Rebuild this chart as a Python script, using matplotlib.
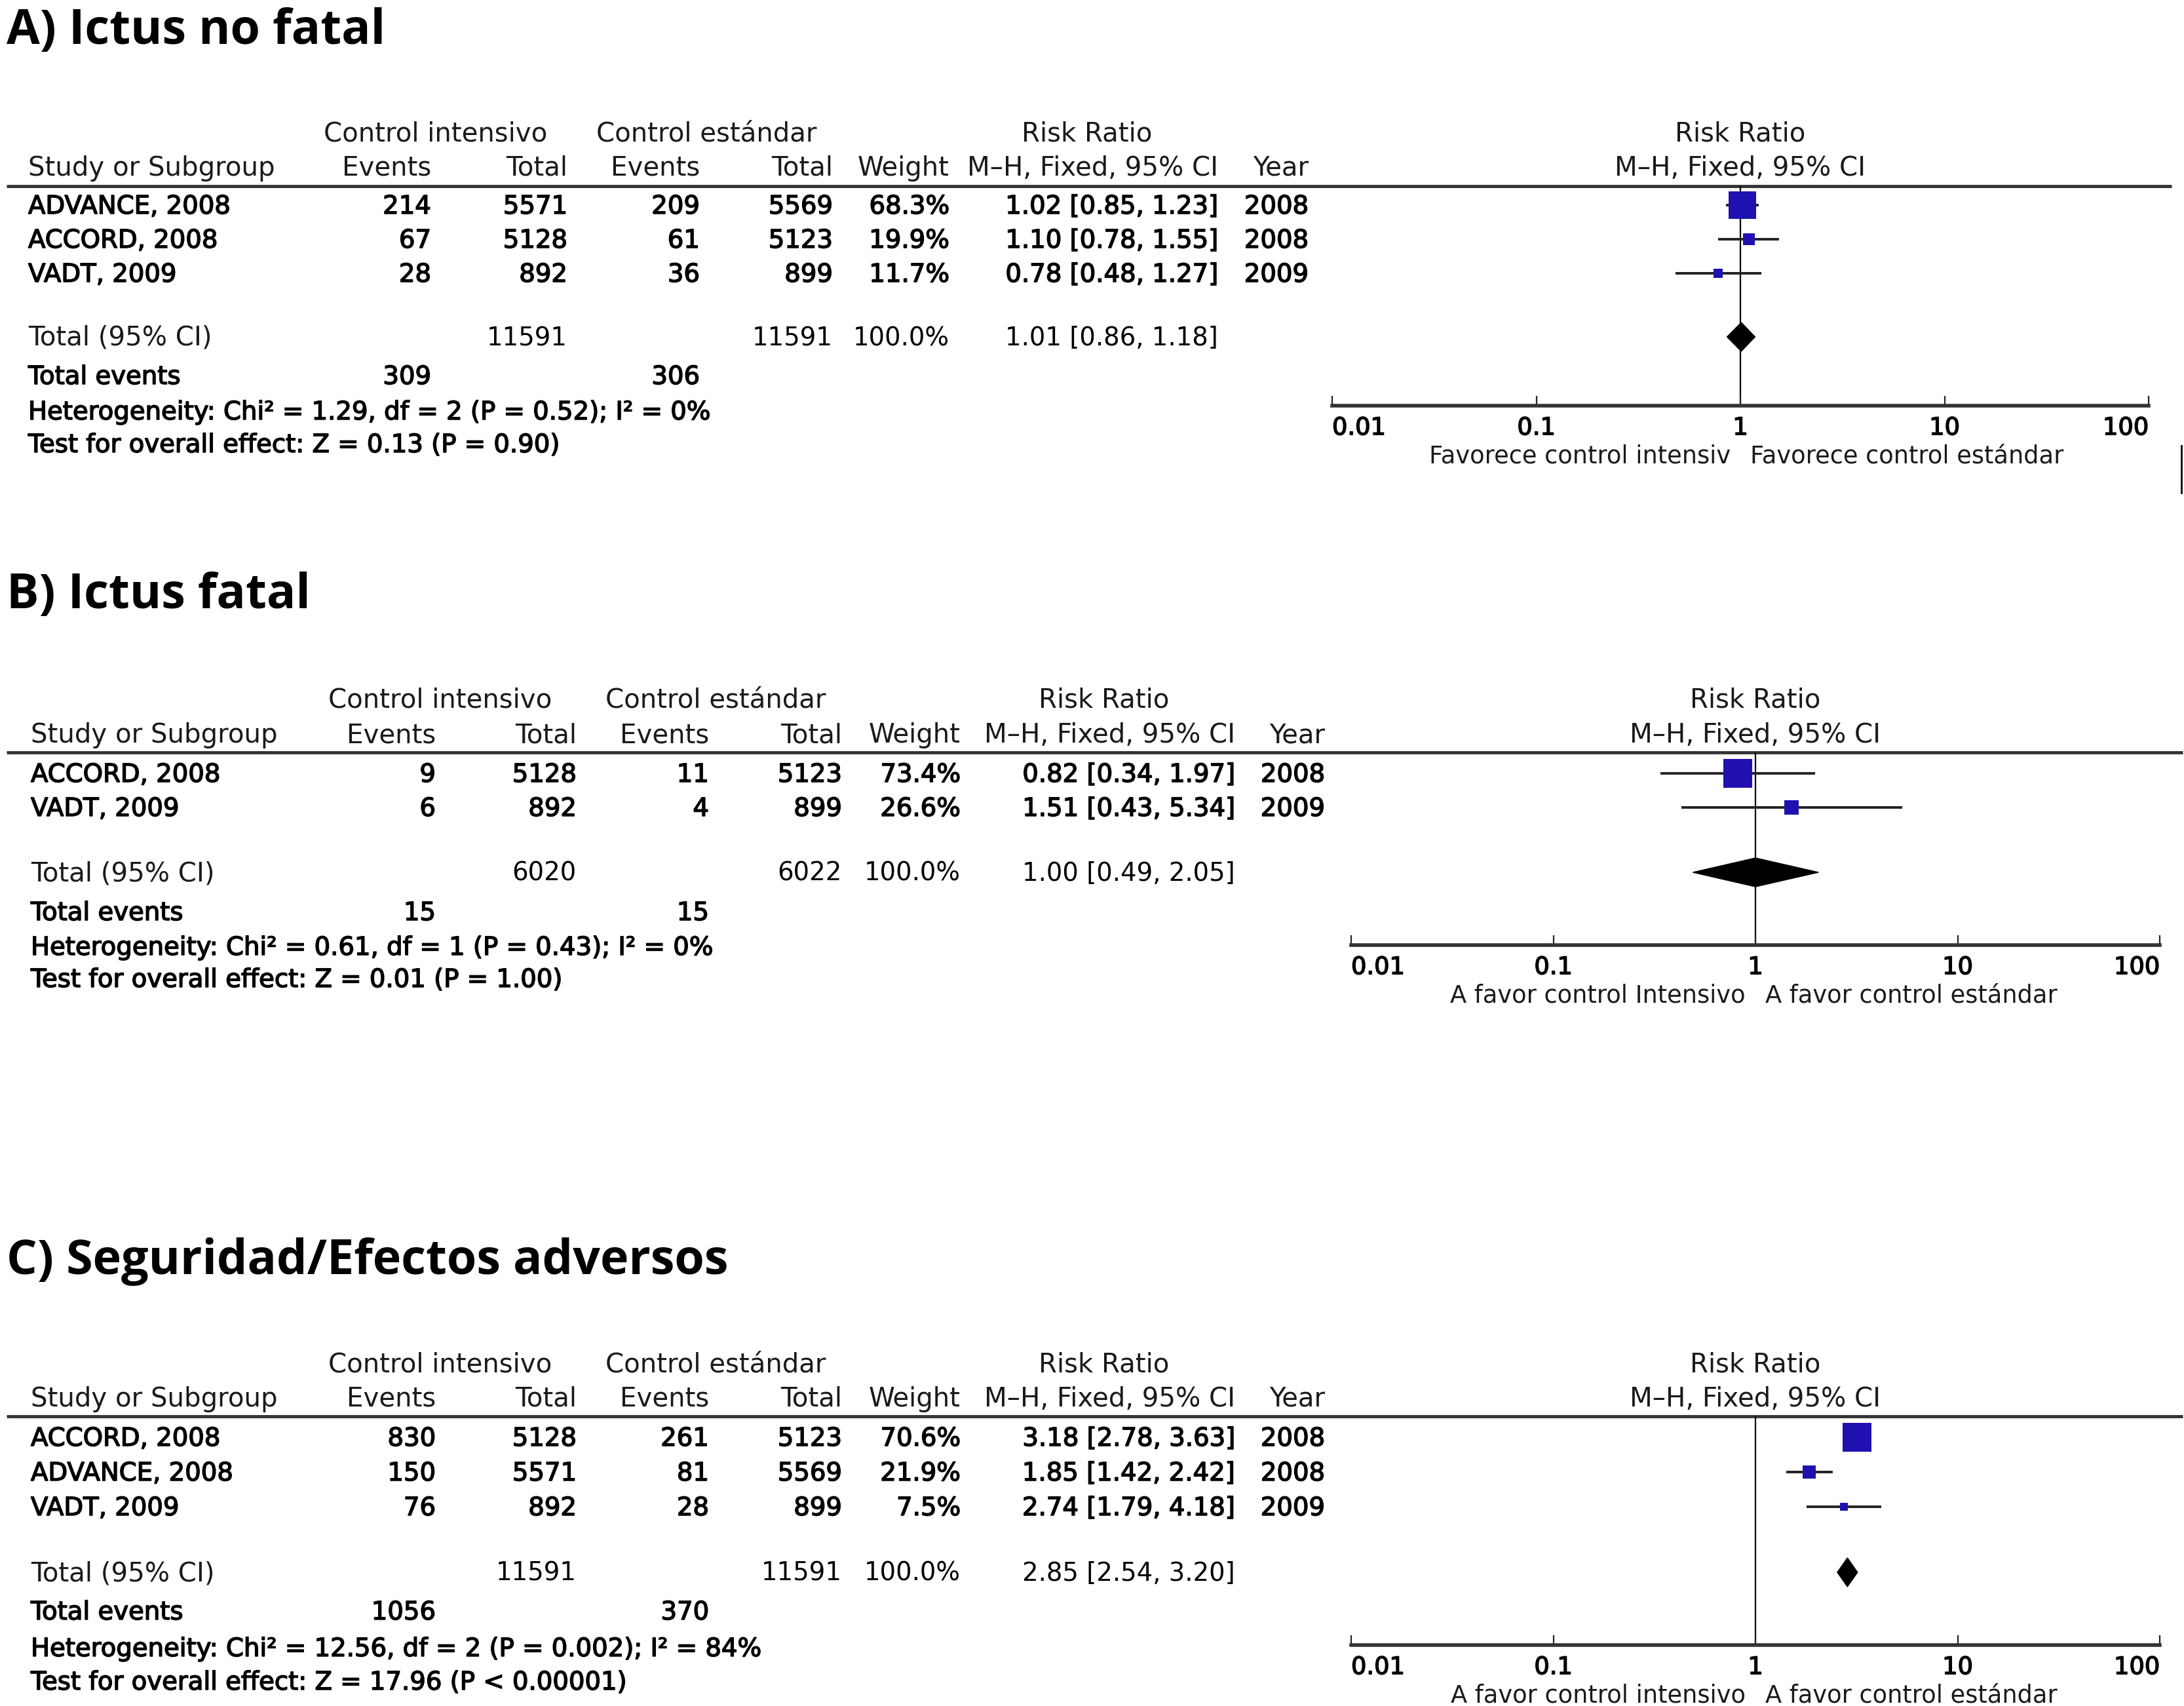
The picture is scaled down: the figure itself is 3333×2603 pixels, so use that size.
import matplotlib
matplotlib.use('Agg')
import matplotlib.pyplot as plt
import matplotlib.patheffects as pe
from matplotlib.ticker import NullLocator

# datos de los tres metaanálisis
# A) Ictus no fatal
studies_a = ['ADVANCE, 2008', 'ACCORD, 2008', 'VADT, 2009']
ev_int_a = [214, 67, 28]
tot_int_a = [5571, 5128, 892]
ev_std_a = [209, 61, 36]
tot_std_a = [5569, 5123, 899]
weight_a = [68.3, 19.9, 11.7]
rr_a = [1.02, 1.10, 0.78]
lo_a = [0.85, 0.78, 0.48]
hi_a = [1.23, 1.55, 1.27]
year_a = [2008, 2008, 2009]
total_a = [11591, 11591, 1.01, 0.86, 1.18]
events_a = [309, 306]
het_a = 'Heterogeneity: Chi² = 1.29, df = 2 (P = 0.52); I² = 0%'
test_a = 'Test for overall effect: Z = 0.13 (P = 0.90)'
favor_a = ['Favorece control intensiv', 'Favorece control estándar']

# B) Ictus fatal
studies_b = ['ACCORD, 2008', 'VADT, 2009']
ev_int_b = [9, 6]
tot_int_b = [5128, 892]
ev_std_b = [11, 4]
tot_std_b = [5123, 899]
weight_b = [73.4, 26.6]
rr_b = [0.82, 1.51]
lo_b = [0.34, 0.43]
hi_b = [1.97, 5.34]
year_b = [2008, 2009]
total_b = [6020, 6022, 1.00, 0.49, 2.05]
events_b = [15, 15]
het_b = 'Heterogeneity: Chi² = 0.61, df = 1 (P = 0.43); I² = 0%'
test_b = 'Test for overall effect: Z = 0.01 (P = 1.00)'
favor_b = ['A favor control Intensivo', 'A favor control estándar']

# C) Seguridad/Efectos adversos
studies_c = ['ACCORD, 2008', 'ADVANCE, 2008', 'VADT, 2009']
ev_int_c = [830, 150, 76]
tot_int_c = [5128, 5571, 892]
ev_std_c = [261, 81, 28]
tot_std_c = [5123, 5569, 899]
weight_c = [70.6, 21.9, 7.5]
rr_c = [3.18, 1.85, 2.74]
lo_c = [2.78, 1.42, 1.79]
hi_c = [3.63, 2.42, 4.18]
year_c = [2008, 2008, 2009]
total_c = [11591, 11591, 2.85, 2.54, 3.20]
events_c = [1056, 370]
het_c = 'Heterogeneity: Chi² = 12.56, df = 2 (P = 0.002); I² = 84%'
test_c = 'Test for overall effect: Z = 17.96 (P < 0.00001)'
favor_c = ['A favor control intensivo', 'A favor control estándar']

W, H = 3333, 2603
FS = 26.5       # etiquetas del eje / favorece
FS_ROW = 27.8   # filas de estudios
FS_HEAD = 29.0  # encabezados
HEAD = '#1a1a1a'
BLUE = '#2010b0'
BOLDISH = [pe.withStroke(linewidth=1.1, foreground='black')]

fig = plt.figure(figsize=(W / 100, H / 100), dpi=100)
base = fig.add_axes([0, 0, 1, 1])
base.set_xlim(0, W)
base.set_ylim(H, 0)
base.axis('off')


def txt(x, y, s, ha='left', head=False, bold=False):
    # y = centro de las mayúsculas en pixeles
    base.text(x, y + 13, s, ha=ha, va='baseline',
              fontsize=FS_HEAD if head else FS_ROW,
              color=HEAD if head else 'black', family='DejaVu Sans',
              path_effects=BOLDISH if bold else None)


def panel(title, title_y, lay, studies, ev_i, tot_i, ev_s, tot_s, wt, rr, lo, hi, yr,
          total, events, het, test, favor):
    cx = lay['cols']  # study, ev1, tot1, ev2, tot2, weight, ci, year
    base.text(10, title_y, title, fontsize=53, fontweight='bold', family='Open Sans',
              va='baseline', ha='left')
    h1, h2, sep = lay['h1'], lay['h2'], lay['sep']
    txt(lay['grp'][0], h1, 'Control intensivo', ha='center', head=True)
    txt(lay['grp'][1], h1, 'Control estándar', ha='center', head=True)
    txt(cx[6] - 200, h1, 'Risk Ratio', ha='center', head=True)
    txt(cx[0], h2, 'Study or Subgroup', head=True)
    for x, s in zip(cx[1:], ['Events', 'Total', 'Events', 'Total', 'Weight',
                             'M–H, Fixed, 95% CI', 'Year']):
        txt(x, h2, s, ha='right', head=True)
    base.plot([10, lay['sep_end']], [sep, sep], color='#333333', lw=3.5,
              solid_capstyle='butt')

    for i, s in enumerate(studies):
        y = lay['rows'][i]
        txt(cx[0], y, s, bold=True)
        vals = [ev_i[i], tot_i[i], ev_s[i], tot_s[i], f'{wt[i]:.1f}%',
                f'{rr[i]:.2f} [{lo[i]:.2f}, {hi[i]:.2f}]', yr[i]]
        for x, v in zip(cx[1:], vals):
            txt(x, y, str(v), ha='right', bold=True)

    yt = lay['total']
    txt(cx[0], yt, 'Total (95% CI)', head=True)
    txt(cx[2], yt, str(total[0]), ha='right')
    txt(cx[4], yt, str(total[1]), ha='right')
    txt(cx[5], yt, '100.0%', ha='right')
    txt(cx[6], yt, f'{total[2]:.2f} [{total[3]:.2f}, {total[4]:.2f}]', ha='right')
    txt(cx[0], lay['tev'], 'Total events', bold=True)
    txt(cx[1], lay['tev'], str(events[0]), ha='right', bold=True)
    txt(cx[3], lay['tev'], str(events[1]), ha='right', bold=True)
    txt(cx[0], lay['het'], het, bold=True)
    txt(cx[0], lay['test'], test, bold=True)

    # forest plot
    x0, x1, ya = lay['fx0'], lay['fx1'], lay['axis']
    ax = fig.add_axes([x0 / W, 1 - ya / H, (x1 - x0) / W, (ya - sep) / H])
    ax.set_xscale('log')
    ax.set_xlim(0.01, 100)
    ax.set_ylim(ya, sep)
    ax.patch.set_alpha(0)
    for k in ['top', 'left', 'right']:
        ax.spines[k].set_visible(False)
    ax.spines['bottom'].set_linewidth(4)
    ax.spines['bottom'].set_color('#333333')
    ax.set_yticks([])
    ax.set_xticks([0.01, 0.1, 1, 10, 100])
    ax.set_xticklabels(['0.01', '0.1', '1', '10', '100'])
    ax.xaxis.set_minor_locator(NullLocator())
    ax.tick_params(axis='x', direction='in', length=11, width=1.6, color='#222222',
                   labelsize=FS, pad=11)
    labs = ax.get_xticklabels()
    labs[0].set_ha('left')
    labs[-1].set_ha('right')
    for lb in labs:
        lb.set_path_effects(BOLDISH)
    ax.axvline(1, color='black', lw=1.6, zorder=1)

    for i in range(len(studies)):
        y = lay['rows'][i]
        ax.hlines(y, lo[i], hi[i], color='#222222', lw=2.8, zorder=2)
        side = (9 + 0.49 * wt[i]) * 0.72
        ax.plot(rr[i], y, marker='s', ms=side, color=BLUE, mec=BLUE, mew=0, zorder=3)
    yd = lay['total']
    ax.fill([total[3], total[2], total[4], total[2]], [yd, yd - 22, yd, yd + 22],
            color='black', zorder=3, clip_on=False)

    # encabezado del forest plot
    ax.text(1, h1 + 13, 'Risk Ratio', ha='center', va='baseline', fontsize=FS_HEAD,
            color=HEAD, clip_on=False)
    ax.text(1, h2 + 13, 'M–H, Fixed, 95% CI', ha='center', va='baseline',
            fontsize=FS_HEAD, color=HEAD, clip_on=False)
    yf = ya + 77
    ax.annotate(favor[0], xy=(1, yf), xytext=(-11, 0), textcoords='offset points',
                ha='right', va='center', fontsize=FS, color=HEAD, annotation_clip=False)
    ax.annotate(favor[1], xy=(1, yf), xytext=(11, 0), textcoords='offset points',
                ha='left', va='center', fontsize=FS, color=HEAD, annotation_clip=False)


lay_a = dict(cols=[43, 658, 866, 1068, 1271, 1449, 1859, 1997], grp=[665, 1078],
             h1=202, h2=255, sep=284, rows=[313, 365, 417], total=514, tev=573,
             het=627, test=677, fx0=2033, fx1=3279, axis=619, sep_end=3314)
lay_b = dict(cols=[47, 665, 880, 1082, 1285, 1466, 1885, 2022], grp=[672, 1092],
             h1=1067, h2=1120, sep=1148, rows=[1180, 1232], total=1331, tev=1391,
             het=1444, test=1493, fx0=2062, fx1=3296, axis=1442, sep_end=3331)
lay_c = dict(cols=[47, 665, 880, 1082, 1285, 1466, 1885, 2022], grp=[672, 1092],
             h1=2080, h2=2133, sep=2161, rows=[2193, 2246, 2299], total=2399, tev=2458,
             het=2514, test=2565, fx0=2062, fx1=3296, axis=2510, sep_end=3331)

panel('A) Ictus no fatal', 67, lay_a, studies_a, ev_int_a, tot_int_a, ev_std_a, tot_std_a,
      weight_a, rr_a, lo_a, hi_a, year_a, total_a, events_a, het_a, test_a, favor_a)
panel('B) Ictus fatal', 928, lay_b, studies_b, ev_int_b, tot_int_b, ev_std_b, tot_std_b,
      weight_b, rr_b, lo_b, hi_b, year_b, total_b, events_b, het_b, test_b, favor_b)
panel('C) Seguridad/Efectos adversos', 1944, lay_c, studies_c, ev_int_c, tot_int_c,
      ev_std_c, tot_std_c, weight_c, rr_c, lo_c, hi_c, year_c, total_c, events_c,
      het_c, test_c, favor_c)

# trazo suelto a la derecha del panel A
base.plot([3329, 3329], [680, 752], color='black', lw=2)

fig.savefig('out.png', dpi=100)
